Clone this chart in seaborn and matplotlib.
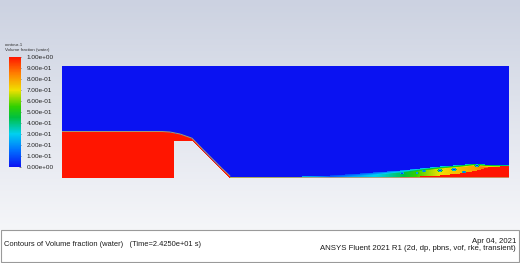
import numpy as np
import pandas as pd
import matplotlib
matplotlib.use("Agg")
import matplotlib.pyplot as plt
from matplotlib.colors import LinearSegmentedColormap
from matplotlib.patches import Rectangle
import seaborn as sns

sns.set_style("white")
plt.rcParams["font.family"] = ["Liberation Sans", "DejaVu Sans"]

# ---------------- data (metres) ----------------
domain_length = 4.47
domain_height = 1.12

# solid weir / ramp body
weir_x = [1.12, 1.12, 1.30, 1.68]
weir_y = [0.00, 0.375, 0.375, 0.00]

# free surface upstream and over the weir
surface_x = [0.00, 1.00, 1.08, 1.18, 1.30, 1.40, 1.50, 1.60, 1.68]
surface_y = [0.46, 0.46, 0.455, 0.435, 0.393, 0.29, 0.19, 0.09, 0.015]

# downstream mixing layer
mix_x    = [1.68, 2.40, 2.68, 2.98, 3.18, 3.38, 3.58, 3.78, 3.98, 4.13, 4.28, 4.47]
mix_top  = [0.015, 0.015, 0.025, 0.045, 0.06, 0.075, 0.095, 0.115, 0.13, 0.145, 0.13, 0.125]
mix_frac = [0.90, 0.60, 0.18, 0.25, 0.32, 0.42, 0.58, 0.70, 0.76, 0.80, 0.90, 0.95]
core_top = [0.000, 0.000, 0.000, 0.000, 0.000, 0.005, 0.015, 0.025, 0.045, 0.07, 0.11, 0.12]

# air pockets inside the mixing layer
bubble_x = [3.40, 3.62, 3.78, 3.92, 4.02, 4.15, 3.55]
bubble_y = [0.048, 0.07, 0.075, 0.085, 0.06, 0.125, 0.05]
bubble_r = [0.014, 0.012, 0.014, 0.016, 0.012, 0.014, 0.010]

colorbar_ticks = [0.0, 0.1, 0.2, 0.3, 0.4, 0.5, 0.6, 0.7, 0.8, 0.9, 1.0]

title_left = "Contours of Volume fraction (water)   (Time=2.4250e+01 s)"
date_text = "Apr 04, 2021"
solver_text = "ANSYS Fluent 2021 R1 (2d, dp, pbns, vof, rke, transient)"
legend_title = ["contour-1", "Volume fraction (water)"]

# ---------------- field on a grid ----------------
nx, ny = 447, 112
dx, dy = domain_length / nx, domain_height / ny
xc = (np.arange(nx) + 0.5) * dx
yc = domain_height - (np.arange(ny) + 0.5) * dy   # row 0 = top
X, Y = np.meshgrid(xc, yc)

field = np.zeros_like(X)
h_up = np.interp(X, surface_x, surface_y)
up = X <= 1.68
field[up & (Y < h_up)] = 1.0

h = np.interp(X, mix_x, mix_top)
a = np.interp(X, mix_x, mix_frac)
c = np.interp(X, mix_x, core_top)
down = X > 1.68
fade = np.clip((h - Y) / 0.025, 0, 1)
layer = down & (Y < h)
field[layer] = (a * (0.4 + 0.6 * fade))[layer]
field[down & (Y < c)] = 1.0
for bx, by, br in zip(bubble_x, bubble_y, bubble_r):
    d2 = ((X - bx) / (1.8 * br)) ** 2 + ((Y - by) / br) ** 2
    field = np.where(d2 < 1, np.minimum(field, 0.05 + 0.5 * d2), field)

weir_top = np.interp(X, weir_x[1:], weir_y[1:])
solid = (X > weir_x[0]) & (X < weir_x[-1]) & (Y < weir_top)

df = pd.DataFrame(field)

# ---------------- figure ----------------
W, H = 520, 263
fig = plt.figure(figsize=(W / 100, H / 100), dpi=100)

bg = fig.add_axes([0, 0, 1, 1])
grad = np.linspace(0, 1, 256)[:, None]
top_c = np.array([204, 210, 225]) / 255
bot_c = np.array([245, 246, 249]) / 255
img = top_c[None, None, :] * (1 - grad[..., None]) + bot_c[None, None, :] * grad[..., None]
img = np.repeat(img, 4, axis=1)
bg.imshow(img, extent=[0, W, 230, 0], aspect="auto")
bg.add_patch(Rectangle((1, 230), W - 2, H - 231, facecolor="white",
                       edgecolor="#9a9a9a", lw=0.8))
bg.set_xlim(0, W)
bg.set_ylim(H, 0)
bg.axis("off")

bg.text(4, 245, title_left, fontsize=5.4, va="center", ha="left", color="#1a1a1a")
bg.text(516, 241.5, date_text, fontsize=5.6, va="center", ha="right", color="#1a1a1a")
bg.text(516, 248.5, solver_text, fontsize=5.6, va="center", ha="right", color="#1a1a1a")
bg.text(5, 45, legend_title[0], fontsize=3.2, va="center", ha="left", color="#333333")
bg.text(5, 50.5, legend_title[1], fontsize=3.2, va="center", ha="left", color="#333333")

cmap = LinearSegmentedColormap.from_list("fluent", [
    (0.0, "#0a12f2"), (0.15, "#0070ff"), (0.3, "#00d0f0"), (0.45, "#00c040"),
    (0.55, "#30d000"), (0.7, "#f0e000"), (0.85, "#ff8000"), (1.0, "#ff1500")])

x0, x1 = 62 / W, 509 / W
y0, y1 = 1 - 177.5 / H, 1 - 65.5 / H
ax = fig.add_axes([x0, y0, x1 - x0, y1 - y0])
cax = fig.add_axes([9 / W, 1 - 167 / H, 12 / W, 110 / H])
sns.heatmap(df, ax=ax, cmap=cmap, vmin=0, vmax=1, mask=solid, cbar=True,
            cbar_ax=cax, xticklabels=False, yticklabels=False,
            cbar_kws={"ticks": colorbar_ticks}, rasterized=True)
ax.patch.set_alpha(0)
cax.set_yticklabels(["%.2e" % t for t in colorbar_ticks], fontsize=4.6, color="#222222")
cax.tick_params(axis="y", direction="in", length=1.8, width=0.4, pad=4, colors="#333333",
                labelcolor="#222222")

ov = fig.add_axes([x0, y0, x1 - x0, y1 - y0])
ov.set_xlim(0, domain_length)
ov.set_ylim(0, domain_height)
ov.axis("off")
ov.plot(surface_x, surface_y, color="#a89a72", lw=0.7)
ov.plot([weir_x[-1], domain_length], [0.004, 0.004], color="#c8a070", lw=0.6)
ov.plot([0, domain_length], [domain_height, domain_height], color="#eef1f8", lw=0.6)

fig.savefig("out.png", dpi=100)
